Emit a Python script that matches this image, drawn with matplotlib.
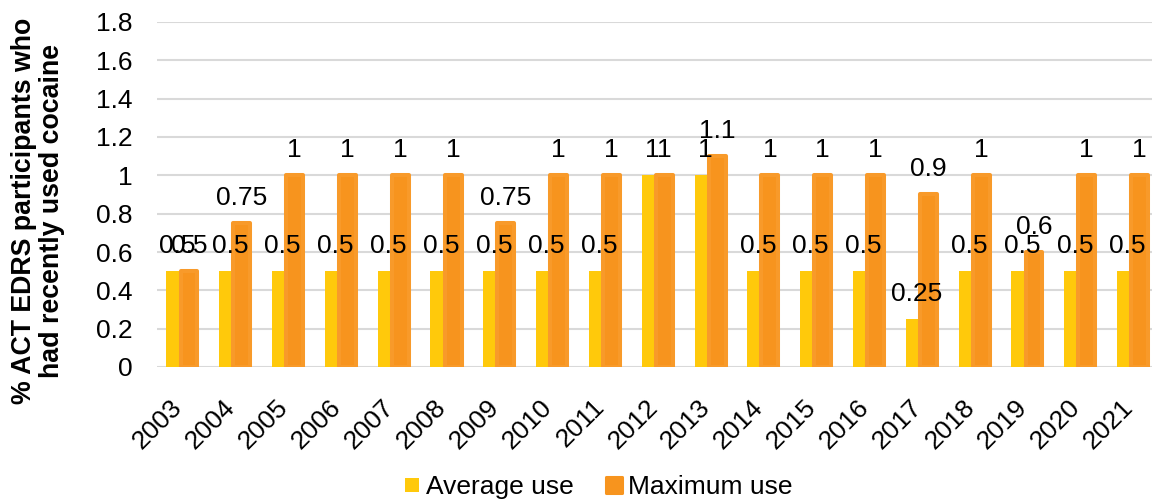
import matplotlib
matplotlib.use("Agg")
import matplotlib.pyplot as plt
import matplotlib.transforms as mtransforms
import numpy as np
from matplotlib.lines import Line2D
from matplotlib.markers import MarkerStyle
from matplotlib.ticker import FuncFormatter, MultipleLocator

years = ["2003", "2004", "2005", "2006", "2007", "2008", "2009", "2010", "2011", "2012",
         "2013", "2014", "2015", "2016", "2017", "2018", "2019", "2020", "2021"]
average_use = [0.5, 0.5, 0.5, 0.5, 0.5, 0.5, 0.5, 0.5, 0.5, 1,
               1, 0.5, 0.5, 0.5, 0.25, 0.5, 0.5, 0.5, 0.5]
maximum_use = [0.5, 0.75, 1, 1, 1, 1, 0.75, 1, 1, 1,
               1.1, 1, 1, 1, 0.9, 1, 0.6, 1, 1]

YELLOW = "#FFC90B"
ORANGE = "#F7941E"
GRID = "#D9D9D9"
FS = 19

plt.rcParams["font.family"] = ["Liberation Sans", "DejaVu Sans"]

fig = plt.figure(figsize=(11.52, 5.03), dpi=100)
ax = fig.add_axes([156.6 / 1152, 1 - 367 / 503, 1003.4 / 1152, 345 / 503])

x = np.arange(len(years))
offset = 0.114

bars_avg = ax.bar(x - offset, average_use, 0.40, color=YELLOW, zorder=2)
# thick round-joined outline gives the maximum bars their soft corners
bars_max = ax.bar(x + offset, maximum_use, 0.32, color=ORANGE,
                  edgecolor="#F89A2A", linewidth=2.9, zorder=3)
for b in bars_max:
    b.set_joinstyle("round")

for bars, vals in ((bars_avg, average_use), (bars_max, maximum_use)):
    for b, v in zip(bars, vals):
        ax.annotate(f"{v:g}", (b.get_x() + b.get_width() / 2, v),
                    xytext=(0, 13), textcoords="offset points",
                    ha="center", va="baseline", fontsize=FS, zorder=5)

ax.set_xlim(-0.5, len(years) - 0.5)
ax.set_ylim(0, 1.8)
ax.yaxis.set_major_locator(MultipleLocator(0.2))
ax.yaxis.set_major_formatter(FuncFormatter(lambda v, p: f"{round(v, 1):g}"))
ax.grid(axis="y", color=GRID, linewidth=1.5, zorder=0)
ax.set_axisbelow(True)
for s in ax.spines.values():
    s.set_visible(False)

ax.set_xticks(x)
ax.set_xticklabels(years, rotation=45, ha="right", fontsize=FS)
ax.tick_params(axis="x", length=0, pad=20)
ax.tick_params(axis="y", length=0, pad=17, labelsize=FS)
shift = mtransforms.ScaledTranslation(4 / 100, 0, fig.dpi_scale_trans)
for lab in ax.get_xticklabels():
    lab.set_transform(lab.get_transform() + shift)

fig.text(38 / 1152, 1 - 211 / 503,
         "% ACT EDRS participants who\nhad recently used cocaine",
         rotation=90, ha="center", va="center", fontsize=19.3, fontweight="bold",
         linespacing=1.12)

handles = [
    Line2D([], [], linestyle="none", marker="s", markersize=10,
           markerfacecolor=YELLOW, markeredgecolor=YELLOW, markeredgewidth=0,
           label="Average use"),
    Line2D([], [], linestyle="none", marker=MarkerStyle("s", joinstyle="round"),
           markersize=12, markerfacecolor=ORANGE, markeredgecolor=ORANGE,
           markeredgewidth=2.2, label="Maximum use"),
]
fig.legend(handles=handles, loc="center", bbox_to_anchor=(0.517, 0.032), ncol=2,
           frameon=False, fontsize=FS, handlelength=1.0, handletextpad=0.05,
           columnspacing=1.0, borderaxespad=0)

fig.savefig("out.png", dpi=100)
